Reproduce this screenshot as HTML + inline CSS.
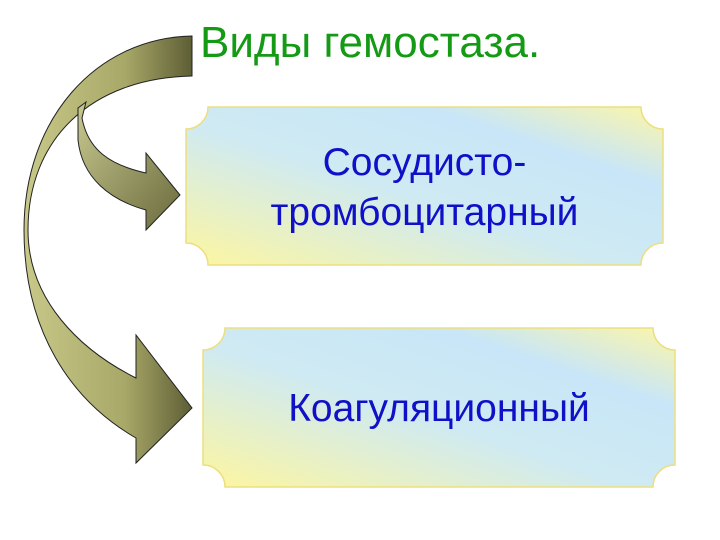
<!DOCTYPE html>
<html><head><meta charset="utf-8"><style>
body{margin:0;width:720px;height:540px;background:#fff;overflow:hidden;position:relative;font-family:"Liberation Sans",sans-serif}
svg{position:absolute;left:0;top:0}
.t{position:absolute;color:#1010c8;font-size:39px;text-align:center;line-height:50px}
</style></head><body>
<svg width="720" height="540">
<defs>
<linearGradient id="g" x1="0" y1="0" x2="1" y2="0">
<stop offset="0" stop-color="#c8c888"/><stop offset="0.6" stop-color="#a8a868"/><stop offset="1" stop-color="#5e5e36"/></linearGradient>
<linearGradient id="g2" x1="0" y1="0" x2="1" y2="1">
<stop offset="0" stop-color="#c8c890"/><stop offset="1" stop-color="#6a6a3c"/></linearGradient>
<linearGradient id="b" x1="0" y1="1" x2="1" y2="0">
<stop offset="0" stop-color="#fdf6a0"/><stop offset="0.45" stop-color="#cfeaf2"/><stop offset="0.75" stop-color="#c8e6f8"/><stop offset="1" stop-color="#fdf6a8"/></linearGradient>
</defs>
<path d="M208,107 H641 A22,22 0 0 0 663,129 V243 A22,22 0 0 0 641,265 H208 A22,22 0 0 0 186,243 V129 A22,22 0 0 0 208,107 Z" fill="url(#b)" stroke="#ecdf80" stroke-width="1.5"/>
<path d="M225,328 H653 A22,22 0 0 0 675,350 V465 A22,22 0 0 0 653,487 H225 A22,22 0 0 0 203,465 V350 A22,22 0 0 0 225,328 Z" fill="url(#b)" stroke="#ecdf80" stroke-width="1.5"/>
<path d="M192,36 C95,38 24,120 24,230 C24,330 70,400 136,438 L136,463 L192,408 L136,335 L136,378 C80,350 28,300 28,230 C28,140 90,78 192,76 Z" fill="url(#g)" stroke="#222" stroke-width="1"/>
<path d="M86,102 L78,108 L78,140 C82,178 110,200 146,210 L146,230 L180,195 L146,153 L146,173 C110,165 88,150 82,118 Z" fill="url(#g2)" stroke="#222" stroke-width="1"/>
</svg>
<div style="position:absolute;left:200px;top:18px;font-size:44px;color:#159a15;line-height:50px">Виды гемостаза.</div>
<div class="t" style="left:186px;top:138px;width:477px">Сосудисто-<br>тромбоцитарный</div>
<div class="t" style="left:203px;top:384px;width:472px">Коагуляционный</div>
</body></html>
